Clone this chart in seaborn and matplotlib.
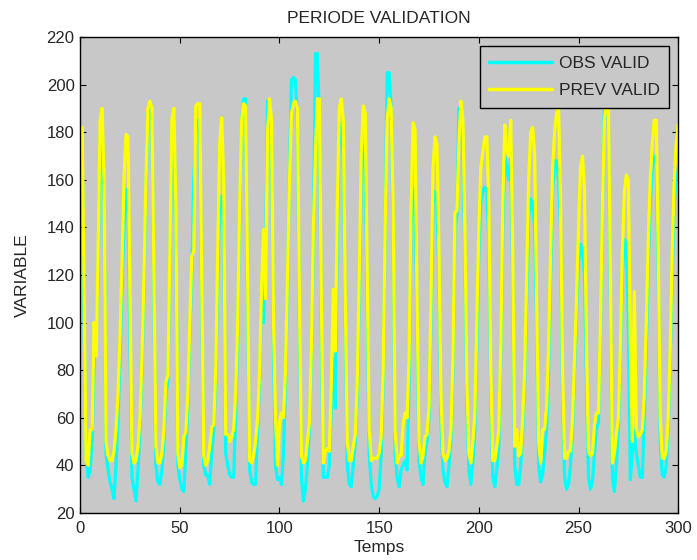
import numpy as np
import pandas as pd
import matplotlib
matplotlib.use("Agg")
import matplotlib.pyplot as plt
import seaborn as sns

# values (t = 1..300)
obs_valid = [
    170, 100, 45, 35, 38, 50, 85, 95, 120, 180, 181, 150,
    45, 38, 33, 30, 26, 40, 60, 85, 115, 140, 156, 150,
    90, 35, 30, 25, 38, 55, 80, 115, 155, 188, 190, 185,
    110, 40, 33, 32, 38, 50, 70, 75, 125, 180, 186, 140,
    40, 34, 30, 29, 45, 65, 95, 120, 160, 181, 185, 180,
    110, 40, 36, 36, 32, 45, 55, 75, 120, 150, 153, 140,
    45, 40, 36, 35, 35, 60, 95, 145, 185, 194, 194, 110,
    38, 33, 32, 32, 55, 75, 110, 100, 125, 193, 192, 175,
    90, 40, 34, 35, 32, 45, 75, 115, 165, 202, 203, 202,
    185, 100, 35, 25, 30, 40, 55, 85, 135, 213, 213, 185,
    95, 35, 35, 35, 40, 65, 85, 64, 140, 184, 180, 170,
    100, 40, 32, 31, 40, 50, 70, 110, 160, 174, 165, 110,
    45, 32, 27, 26, 27, 30, 45, 75, 140, 205, 205, 190,
    140, 45, 35, 31, 38, 40, 42, 38, 75, 140, 156, 150,
    100, 42, 35, 32, 45, 50, 60, 100, 150, 155, 150, 120,
    60, 38, 33, 31, 40, 50, 80, 140, 145, 190, 185, 170,
    130, 65, 38, 32, 42, 55, 90, 130, 150, 155, 157, 155,
    135, 70, 35, 31, 38, 48, 85, 140, 170, 165, 160, 170,
    120, 40, 32, 32, 40, 55, 75, 110, 145, 152, 150, 140,
    100, 40, 33, 36, 45, 55, 80, 120, 155, 168, 168, 160,
    140, 70, 35, 30, 32, 40, 55, 80, 105, 125, 133, 130,
    120, 75, 35, 30, 33, 45, 55, 58, 95, 150, 192, 190,
    185, 110, 35, 29, 40, 55, 85, 120, 135, 133, 100, 34,
    45, 55, 45, 40, 35, 35, 60, 90, 125, 150, 165, 170,
    168, 120, 50, 36, 35, 40, 55, 85, 120, 150, 160, 165,
]
prev_valid = [
    182, 110, 42, 40, 55, 55, 100, 86, 130, 185, 190, 160,
    50, 44, 42, 42, 46, 55, 70, 95, 125, 160, 179, 178,
    110, 45, 41, 42, 48, 60, 85, 120, 160, 190, 193, 190,
    120, 48, 41, 41, 45, 55, 75, 78, 130, 185, 190, 150,
    45, 39, 40, 52, 54, 70, 100, 128, 130, 191, 192, 192,
    120, 44, 40, 42, 48, 56, 57, 80, 130, 175, 186, 160,
    53, 53, 50, 52, 55, 70, 100, 150, 185, 192, 191, 120,
    42, 41, 44, 50, 60, 80, 115, 139, 110, 180, 194, 185,
    100, 60, 40, 58, 62, 60, 80, 120, 160, 188, 192, 193,
    190, 110, 44, 41, 42, 50, 58, 90, 140, 170, 194, 194,
    110, 41, 46, 47, 46, 75, 114, 88, 150, 190, 194, 185,
    110, 50, 42, 42, 48, 53, 75, 120, 170, 191, 188, 120,
    55, 42, 43, 43, 43, 45, 52, 80, 140, 185, 194, 190,
    150, 55, 41, 44, 44, 57, 62, 60, 85, 150, 184, 181,
    110, 50, 41, 44, 52, 53, 65, 110, 165, 178, 175, 130,
    70, 45, 42, 43, 46, 55, 85, 146, 147, 175, 193, 185,
    140, 75, 45, 41, 50, 62, 100, 140, 165, 172, 178, 178,
    150, 80, 42, 42, 48, 55, 90, 150, 183, 172, 170, 185,
    130, 48, 55, 44, 45, 60, 80, 120, 160, 180, 182, 170,
    110, 50, 41, 55, 55, 65, 90, 130, 165, 180, 188, 190,
    150, 80, 43, 43, 46, 46, 60, 85, 110, 140, 165, 170,
    155, 90, 46, 44, 45, 57, 62, 62, 100, 150, 185, 192,
    192, 120, 41, 45, 53, 60, 90, 130, 155, 162, 160, 90,
    50, 113, 55, 52, 53, 55, 70, 100, 135, 160, 175, 185,
    185, 130, 60, 43, 43, 46, 60, 90, 130, 160, 175, 183,
]
series_names = ["OBS VALID", "PREV VALID"]
line_colors = ["#00ffff", "#ffff00"]

temps = np.arange(1, len(obs_valid) + 1)
df = pd.DataFrame({
    "Temps": np.concatenate([temps, temps]),
    "VARIABLE": obs_valid + prev_valid,
    "serie": [series_names[0]] * len(obs_valid) + [series_names[1]] * len(prev_valid),
})

sns.set_style("ticks")
plt.rcParams["font.family"] = ["Liberation Sans", "DejaVu Sans"]

fig = plt.figure(figsize=(6.97, 5.6), dpi=100)
ax = fig.add_axes([0.115, 0.084, 0.858, 0.850])
ax.set_facecolor("#c8c8c8")

sns.lineplot(data=df, x="Temps", y="VARIABLE", hue="serie",
             palette=dict(zip(series_names, line_colors)),
             linewidth=2.3, ax=ax)

ax.set_xlim(0, 300)
ax.set_ylim(20, 220)
ax.set_xticks(np.arange(0, 301, 50))
ax.set_yticks(np.arange(20, 221, 20))
ax.tick_params(direction="in", top=True, right=True, length=4,
               labelsize=12, color="black", pad=4)
ax.tick_params(axis="x", pad=6)
for s in ax.spines.values():
    s.set_color("black")
    s.set_linewidth(1.0)
ax.set_title("PERIODE VALIDATION", fontsize=12.5, pad=10)
ax.set_xlabel("Temps", fontsize=12.5, labelpad=3)
ax.set_ylabel("VARIABLE", fontsize=12.5, labelpad=12)

leg = ax.legend(loc="upper right", bbox_to_anchor=(0.985, 0.981),
                fontsize=12.5, fancybox=False, framealpha=1,
                borderaxespad=0, handlelength=3.6, handletextpad=0.4,
                labelspacing=0.7, borderpad=0.55)
leg.get_frame().set_edgecolor("black")
leg.get_frame().set_facecolor("#c8c8c8")
for line in leg.get_lines():
    line.set_linewidth(2.5)

fig.savefig("out.png", dpi=100)
